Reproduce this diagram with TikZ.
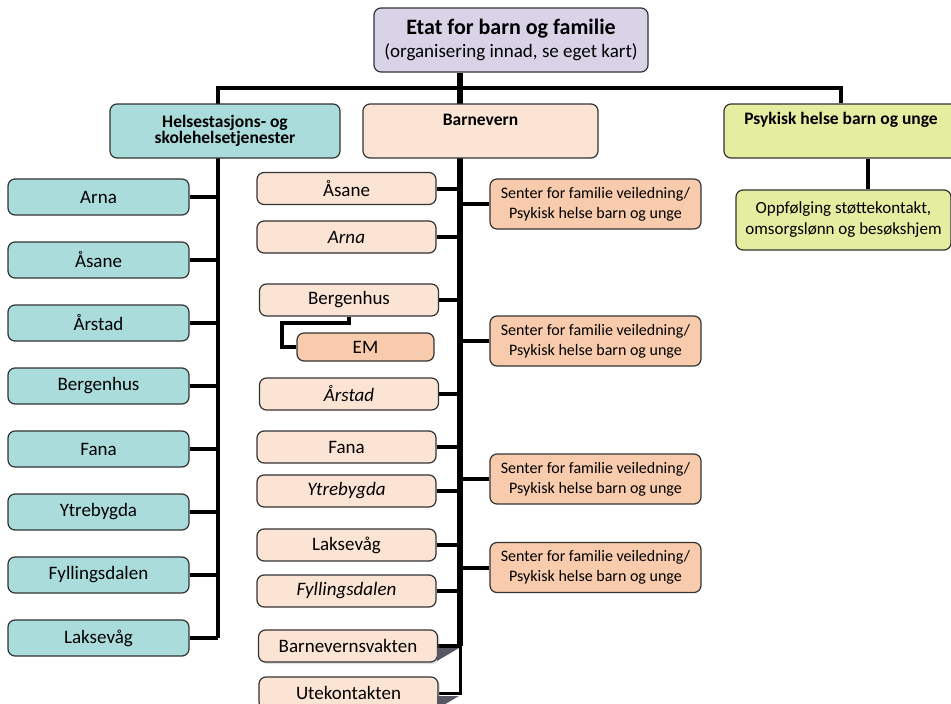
\documentclass[tikz,border=0pt]{standalone}
\usepackage{fontspec}
\setmainfont{Carlito}
\usetikzlibrary{shadows}

\definecolor{etatlilla}{RGB}{217,211,232}
\definecolor{helseteal}{RGB}{170,220,220}
\definecolor{bvlys}{RGB}{252,228,212}
\definecolor{bvmork}{RGB}{248,203,173}
\definecolor{psykgronn}{RGB}{228,237,160}
\definecolor{skygge}{RGB}{88,88,100}

\pgfdeclarelayer{bg}
\pgfsetlayers{bg,main}

\newcommand{\distfont}{\fontsize{19}{22}\selectfont}
\newcommand{\headfont}{\fontsize{17.5}{21}\selectfont\bfseries}
\newcommand{\senterfont}{\fontsize{16}{20}\selectfont}

\tikzset{
  box/.style={draw=black!80, line width=1.2pt, rounded corners=7pt,
    align=center, inner sep=1pt},
  hbox/.style={box, fill=helseteal, minimum width=181pt, minimum height=36pt,
    font=\distfont},
  bvbox/.style={box, fill=bvlys, minimum width=179pt, minimum height=32pt,
    font=\distfont},
  senterbox/.style={box, fill=bvmork, minimum width=211pt, minimum height=50pt,
    font=\senterfont},
  conn/.style={line width=4pt, line join=miter},
  trunk/.style={line width=5.5pt},
}

\begin{document}
\begin{tikzpicture}[x=1pt,y=-1pt]
  \useasboundingbox (0,0) rectangle (951,704);
  \clip (0,0) rectangle (951,704);

  % trunk coordinates
  \coordinate (barL) at (218,88);
  \coordinate (barR) at (841,88);
  \coordinate (bvx) at (460,88);
  \coordinate (oppx) at (868,0);

  % top
  \node[box, fill=etatlilla, minimum width=274pt, minimum height=64pt] (etat) at (511,40)
    {{\fontsize{22}{24}\selectfont\bfseries Etat for barn og familie}\\[5pt]
     {\fontsize{19}{22}\selectfont (organisering innad, se eget kart)}};

  % headings
  \node[box, fill=helseteal, minimum width=230pt, minimum height=54pt] (helse) at (225,131)
    {\headfont Helsestasjons- og\\\headfont skolehelsetjenester};
  \node[box, fill=bvlys, minimum width=235pt, minimum height=54pt] (bvn) at (480.5,131)
    {\headfont Barnevern\\\headfont\strut};
  \node[box, fill=psykgronn, minimum width=234pt, minimum height=54pt] (psyk) at (841,131)
    {\headfont Psykisk helse barn og unge\\\headfont\strut};
  \node[box, fill=psykgronn, minimum width=215pt, minimum height=60pt,
    font=\fontsize{17}{21}\selectfont] (opp) at (843.5,220)
    {Oppfølging støttekontakt,\\omsorgslønn og besøkshjem};

  % helsestasjon
  \foreach \navn [count=\i from 0] in {Arna,Åsane,Årstad,Bergenhus,Fana,Ytrebygda,Fyllingsdalen,Laksevåg} {
    \node[hbox] (h\i) at (98.5,{197+63*\i}) {\navn};
  }

  % barnevern
  \node[bvbox] (asane) at (346.5,188.5) {Åsane};
  \node[bvbox] (arna) at (346.5,237) {\itshape Arna};
  \node[bvbox] (berg) at (349,300) {Bergenhus};
  \node[box, fill=bvmork, minimum width=137pt, minimum height=28pt, font=\distfont] (em) at (365.5,347) {EM};
  \node[bvbox] (arstad) at (349,394) {\itshape Årstad};
  \node[bvbox] (fana) at (346.5,447) {Fana};
  \node[bvbox] (ytre) at (346.5,491) {\itshape Ytrebygda};
  \node[bvbox] (lak) at (346.5,545) {Laksevåg};
  \node[bvbox] (fyll) at (346.5,591) {\itshape Fyllingsdalen};
  \node[bvbox, drop shadow={shadow xshift=2pt, shadow yshift=-2pt, opacity=0.25}] (vakt) at (348,646) {Barnevernsvakten};
  \node[bvbox, drop shadow={shadow xshift=2pt, shadow yshift=-2pt, opacity=0.25}] (ute) at (348.5,693) {Utekontakten};

  \node[senterbox] (s1) at (595.5,204) {Senter for familie veiledning/\\Psykisk helse barn og unge};
  \node[senterbox] (s2) at (595.5,341) {Senter for familie veiledning/\\Psykisk helse barn og unge};
  \node[senterbox] (s3) at (595.5,479) {Senter for familie veiledning/\\Psykisk helse barn og unge};
  \node[senterbox] (s4) at (595.5,567.5) {Senter for familie veiledning/\\Psykisk helse barn og unge};

  % lines
  \begin{pgfonlayer}{bg}
    \foreach \i in {0,...,7}
      \draw[conn] (h\i.east) -- (h\i.east -| barL);
    \draw[conn] (barL |- h7.east) -- (barL) -- (barR) -- (psyk.north);
    \draw[trunk] (bvx |- etat.south) -- (bvx |- vakt.east);
    \draw[conn] (psyk.south -| oppx) -- (opp.north -| oppx);
    \foreach \n in {asane,arna,berg,arstad,fana,ytre,lak,fyll,vakt}
      \draw[conn] (\n.east) -- (\n.east -| bvx);
    \foreach \n in {s1,s2,s3,s4}
      \draw[conn] (\n.west) -- (\n.west -| bvx);
    \draw[line width=3pt] (bvx |- vakt.east) -- (bvx |- ute.east) -- (ute.east);
    \draw[conn] (berg.south) -- ++(0,6) -| ([xshift=-14pt]em.west) -- (em.west);
  \end{pgfonlayer}

  % skygge
  \fill[skygge] (437,648) -- (459,648) -- (437,661) -- cycle;
  \fill[skygge] (437,696) -- (459,696) -- (437,709) -- cycle;
\end{tikzpicture}
\end{document}
